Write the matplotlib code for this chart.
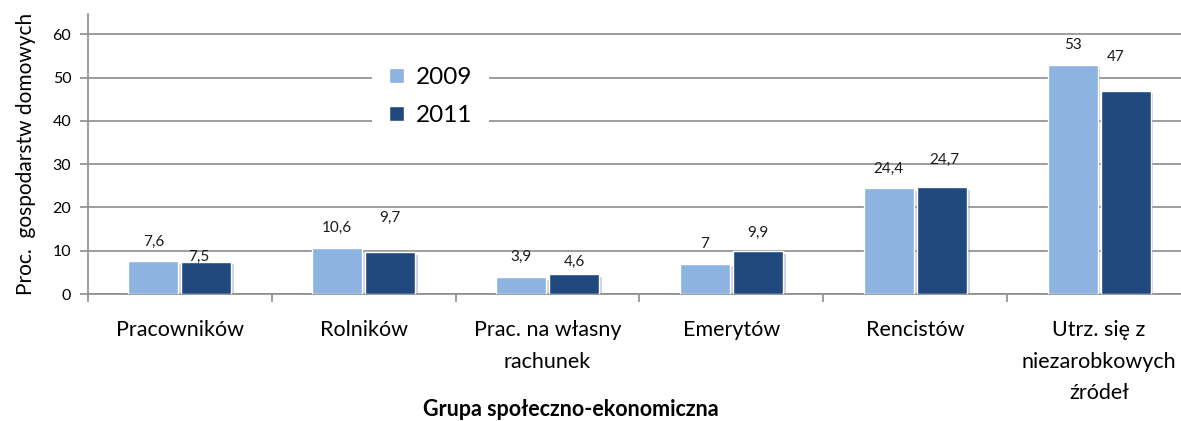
import matplotlib
matplotlib.use("Agg")
import matplotlib.pyplot as plt
import matplotlib.patheffects as pe
import numpy as np

# Data
categories = [
    "Pracowników",
    "Rolników",
    "Prac. na własny\nrachunek",
    "Emerytów",
    "Rencistów",
    "Utrz. się z\nniezarobkowych\nźródeł",
]
values_2009 = [7.6, 10.6, 3.9, 7.0, 24.4, 53.0]
values_2011 = [7.5, 9.7, 4.6, 9.9, 24.7, 47.0]
labels_2009 = ["7,6", "10,6", "3,9", "7", "24,4", "53"]
labels_2011 = ["7,5", "9,7", "4,6", "9,9", "24,7", "47"]
years = ["2009", "2011"]
yticks = [0, 10, 20, 30, 40, 50, 60]

# label offsets (pixels) mimicking the original placement
offs_2009 = [(0, 19), (0, 20), (0, 20), (0, 20), (0, 20), (0, 20)]
offs_2011 = [(-8, 5), (0, 34), (0, 12), (0, 18), (3, 27), (-10, 34)]

c_light = "#8DB3E2"
c_dark = "#1F497D"
grid_c = "#8C8C8C"

plt.rcParams["font.family"] = ["Lato", "DejaVu Sans"]

W, H = 1181, 421
fig = plt.figure(figsize=(W / 100, H / 100), dpi=100, facecolor="white")
ax = fig.add_axes([88 / W, 1 - 294 / H, (1191 - 88) / W, (294 - 14) / H])

x = np.arange(len(categories))
bw = 0.272
gap = 0.016

b1 = ax.bar(x - bw / 2 - gap / 2, values_2009, width=bw, color=c_light,
            edgecolor="white", linewidth=1, label=years[0], zorder=3)
b2 = ax.bar(x + bw / 2 + gap / 2, values_2011, width=bw, color=c_dark,
            edgecolor="white", linewidth=1, label=years[1], zorder=3)

for rect, lab, (dx, dy) in zip(b1, labels_2009, offs_2009):
    ax.annotate(lab, (rect.get_x() + rect.get_width() / 2, rect.get_height()),
                xytext=(dx, dy), textcoords="offset pixels",
                ha="center", va="center", fontsize=11, color="#1a1a1a", zorder=5)
for rect, lab, (dx, dy) in zip(b2, labels_2011, offs_2011):
    ax.annotate(lab, (rect.get_x() + rect.get_width() / 2, rect.get_height()),
                xytext=(dx, dy), textcoords="offset pixels",
                ha="center", va="center", fontsize=11, color="#1a1a1a", zorder=5)

ax.set_xlim(-0.5, len(categories) - 0.5)
ax.set_ylim(0, 64.7)
ax.set_yticks(yticks)
ax.yaxis.grid(True, color=grid_c, linewidth=1.2, zorder=0)
ax.set_axisbelow(True)

ax.set_xticks(x)
ax.set_xticklabels(categories, fontsize=15.5, linespacing=1.72, va="top")
ax.set_xticks(np.arange(-0.5, len(categories), 1), minor=True)
ax.tick_params(axis="x", which="major", length=0, pad=19)
ax.tick_params(axis="x", which="minor", length=6, width=1.2, color=grid_c, direction="out")
ax.tick_params(axis="y", length=6, width=1.2, color=grid_c, labelsize=11.5, pad=6)

for s in ["top", "right"]:
    ax.spines[s].set_visible(False)
for s in ["left", "bottom"]:
    ax.spines[s].set_color(grid_c)
    ax.spines[s].set_linewidth(1.2)

ax.set_ylabel("Proc.  gospodarstw domowych", fontsize=15, labelpad=12)
fig.text(571 / W, 1 - 410 / H, "Grupa społeczno-ekonomiczna", ha="center", va="center",
         fontsize=15.5, fontweight="bold")

leg = ax.legend(loc="upper left", bbox_to_anchor=((372 - 88) / (1191 - 88), 1 - (50 - 14) / 280),
                frameon=True, fontsize=17.5, handlelength=0.6, handleheight=0.6,
                handletextpad=0.5, labelspacing=0.7, borderpad=0.7, borderaxespad=0)
leg.get_frame().set_edgecolor("none")
leg.get_frame().set_facecolor("white")
leg.get_frame().set_alpha(1)

# soft shadow on bars (set after the legend so the legend keys stay flat)
shadow = [pe.SimplePatchShadow(offset=(2, -2), shadow_rgbFace="#808080", alpha=0.35), pe.Normal()]
for p in list(b1) + list(b2):
    p.set_path_effects(shadow)

fig.savefig("out.png", dpi=100, facecolor="white")
